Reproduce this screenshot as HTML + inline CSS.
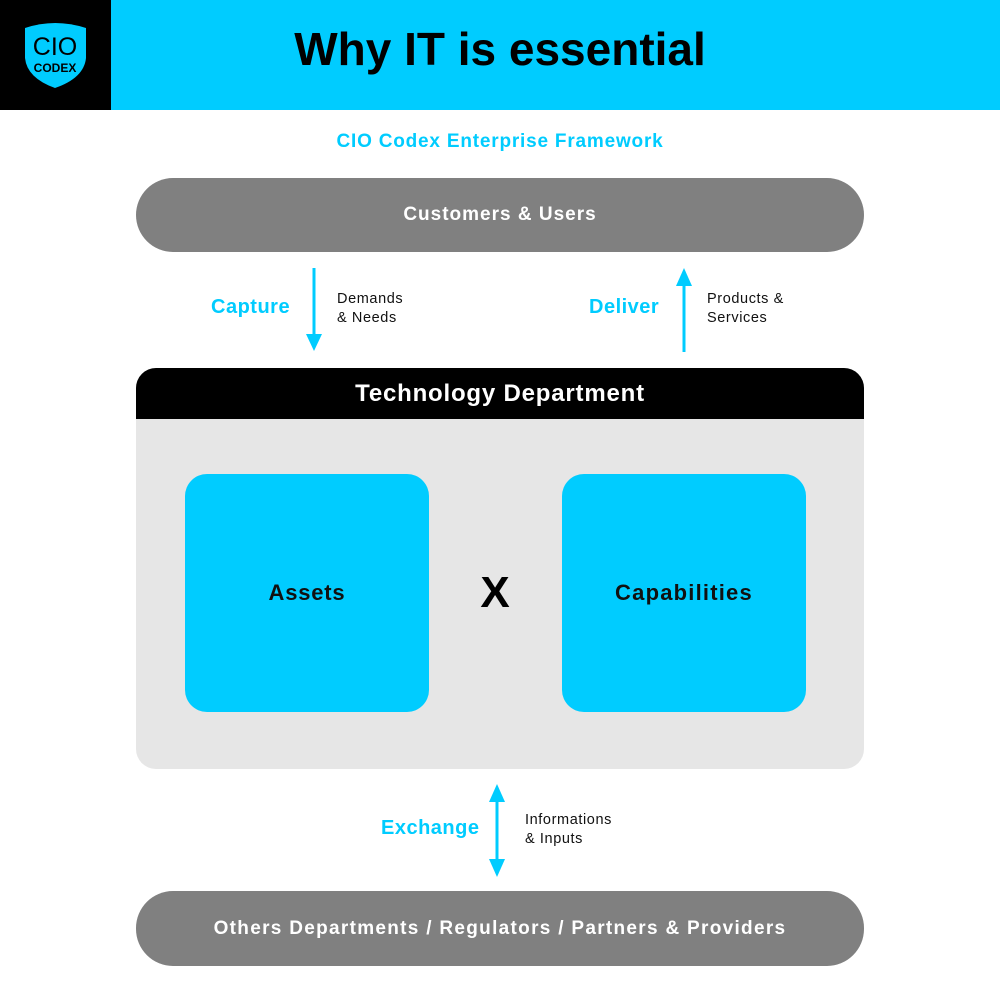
<!DOCTYPE html>
<html><head><style>
body{margin:0;width:1000px;height:1000px;background:#fff;position:relative;font-family:"Liberation Sans",sans-serif;overflow:hidden}
.a{position:absolute}
.pill{position:absolute;left:136px;width:728px;background:#808080;border-radius:37px;color:#fff;font-weight:bold;font-size:19px;display:flex;align-items:center;justify-content:center}
.box{position:absolute;top:474px;width:244px;height:238px;background:#00ccff;border-radius:22px;display:flex;align-items:center;justify-content:center;font-weight:bold;font-size:22px;color:#111;letter-spacing:0.8px}
.lbl{position:absolute;color:#00ccff;font-weight:bold;font-size:20px;letter-spacing:0.5px}
.sm{position:absolute;font-size:14.5px;line-height:19px;color:#111;letter-spacing:0.6px}
</style></head><body>
<div class="a" style="left:0;top:0;width:1000px;height:110px;background:#00ccff"></div>
<div class="a" style="left:0;top:0;width:111px;height:110px;background:#000"></div>
<svg class="a" style="left:0;top:0" width="111" height="110">
<path d="M25 28 Q55 18 86 28 L86 58 Q84 78 55 88 Q27 78 25 58 Z" fill="#00ccff"/>
<text x="55" y="55" text-anchor="middle" font-family="Liberation Sans" font-size="25" fill="#000">CIO</text>
<text x="55" y="72" text-anchor="middle" font-family="Liberation Sans" font-weight="bold" font-size="12" fill="#000">CODEX</text>
</svg>
<div class="a" style="left:200px;width:600px;top:22px;text-align:center;font-size:46px;font-weight:bold;color:#000">Why IT is essential</div>
<div class="a" style="left:0;width:1000px;top:131px;text-align:center;font-size:19px;font-weight:bold;color:#00ccff;letter-spacing:0.8px">CIO Codex Enterprise Framework</div>
<div class="pill" style="top:178px;height:74px;letter-spacing:1px">Customers &amp; Users</div>
<div class="pill" style="top:891px;height:75px;letter-spacing:1.3px">Others Departments / Regulators / Partners &amp; Providers</div>
<div class="a" style="left:136px;top:368px;width:728px;height:401px;background:#e6e6e6;border-radius:20px"></div>
<div class="a" style="left:136px;top:368px;width:728px;height:51px;background:#000;border-radius:20px 20px 0 0;color:#fff;font-weight:bold;font-size:24px;letter-spacing:0.8px;display:flex;align-items:center;justify-content:center">Technology Department</div>
<div class="box" style="left:185px">Assets</div>
<div class="box" style="left:562px;letter-spacing:1.2px">Capabilities</div>
<div class="a" style="left:470px;top:568px;width:50px;text-align:center;font-size:44px;font-weight:bold;color:#000">X</div>
<svg class="a" style="left:0;top:0" width="1000" height="1000">
<g fill="#00ccff" stroke="#00ccff">
<line x1="314" y1="268" x2="314" y2="338" stroke-width="3"/><path d="M306 334 L322 334 L314 351 Z" stroke="none"/>
<line x1="684" y1="352" x2="684" y2="282" stroke-width="3"/><path d="M676 286 L692 286 L684 268 Z" stroke="none"/>
<line x1="497" y1="798" x2="497" y2="863" stroke-width="3"/><path d="M489 802 L505 802 L497 784 Z" stroke="none"/><path d="M489 859 L505 859 L497 877 Z" stroke="none"/>
</g></svg>
<div class="lbl" style="left:211px;top:296px">Capture</div>
<div class="lbl" style="left:589px;top:296px">Deliver</div>
<div class="lbl" style="left:381px;top:817px">Exchange</div>
<div class="sm" style="left:337px;top:290px">Demands<br>&amp; Needs</div>
<div class="sm" style="left:707px;top:290px">Products &amp;<br>Services</div>
<div class="sm" style="left:525px;top:811px">Informations<br>&amp; Inputs</div>
</body></html>
